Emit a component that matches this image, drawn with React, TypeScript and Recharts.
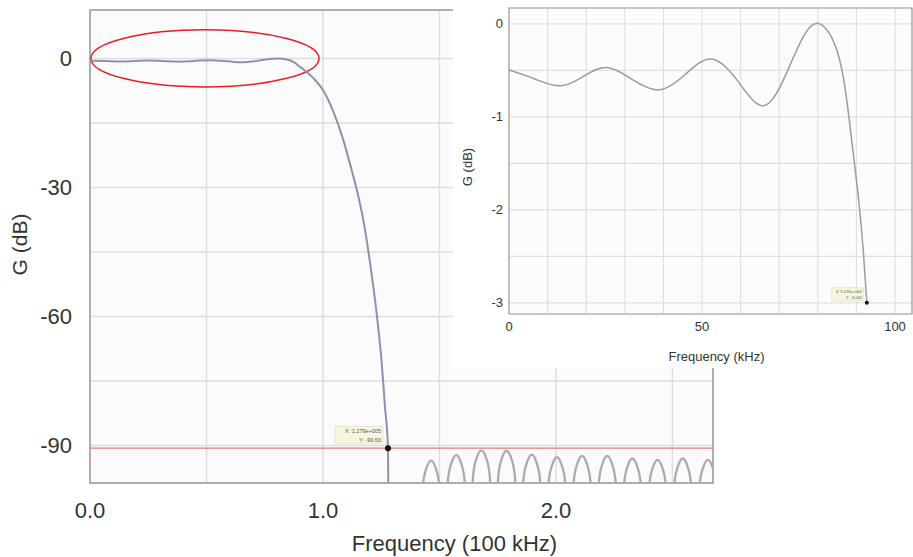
import React from 'react';
import {
  LineChart,
  Line,
  XAxis,
  YAxis,
  CartesianGrid,
  ReferenceLine,
  ReferenceDot,
  ReferenceArea,
} from 'recharts';

const FONT = '"Liberation Sans", Arial, Helvetica, sans-serif';

// ---- main plot: frequency in units of 100 kHz, gain in dB ----
const mainX = [
  0, 0.065, 0.134, 0.195, 0.255, 0.289, 0.332, 0.389, 0.427, 0.462, 0.522, 0.565, 0.617, 0.66,
  0.703, 0.737, 0.772, 0.805, 0.849, 0.875, 0.901, 0.927, 0.96, 1.0, 1.044, 1.087, 1.123, 1.152,
  1.173, 1.202, 1.23, 1.252, 1.266, 1.279, 1.283,
];
const mainG = [
  -0.5, -0.585, -0.667, -0.55, -0.47, -0.51, -0.64, -0.71, -0.62, -0.46, -0.38, -0.53, -0.78, -0.88,
  -0.64, -0.35, -0.08, 0, -0.28, -0.82, -1.9, -3.0, -4.6, -7.3, -12.3, -18.9, -25.9, -32.1,
  -37.5, -47.5, -59.1, -70.7, -80.9, -90.6, -115,
];

// stopband side lobes (nulls go below the visible range)
const lobeX = [
  1.410, 1.429, 1.445, 1.464, 1.483, 1.499,
  1.518, 1.537, 1.553, 1.572, 1.591, 1.607,
  1.626, 1.645, 1.661, 1.680, 1.699, 1.715,
  1.734, 1.753, 1.769, 1.788, 1.807, 1.823,
  1.842, 1.861, 1.877, 1.896, 1.915, 1.931,
  1.950, 1.969, 1.985, 2.004, 2.023, 2.039,
  2.058, 2.077, 2.093, 2.112, 2.131, 2.147,
  2.166, 2.185, 2.201, 2.220, 2.239, 2.255,
  2.274, 2.293, 2.309, 2.328, 2.347, 2.363,
  2.382, 2.401, 2.417, 2.436, 2.455, 2.471,
  2.490, 2.509, 2.525, 2.544, 2.563, 2.579,
  2.598, 2.617, 2.633, 2.652, 2.671, 2.687,
  2.706,
];
const lobeG = [
  -115, -99.0, -95.1, -93.5, -95.1, -99.0,
  -115, -97.7, -93.8, -92.2, -93.8, -97.7,
  -115, -96.6, -92.7, -91.1, -92.7, -96.6,
  -115, -96.7, -92.8, -91.2, -92.8, -96.7,
  -115, -97.6, -93.7, -92.1, -93.7, -97.6,
  -115, -98.2, -94.3, -92.7, -94.3, -98.2,
  -115, -97.9, -94.0, -92.4, -94.0, -97.9,
  -115, -97.9, -94.0, -92.4, -94.0, -97.9,
  -115, -98.5, -94.6, -93.0, -94.6, -98.5,
  -115, -98.8, -94.9, -93.3, -94.9, -98.8,
  -115, -98.5, -94.6, -93.0, -94.6, -98.5,
  -115, -98.8, -94.9, -93.3, -94.9, -98.8,
  -115,
];

const mainXTicks = [0, 0.5, 1, 1.5, 2, 2.5];
const mainXLabels = [0, 1, 2];
const mainYTicks = [0, -15, -30, -45, -60, -75, -90];
const mainYLabels = [0, -30, -60, -90];
const mainXRange = [0, 2.674];
const mainYRange = [-98.7, 11.3];
const cutoffLevel = -90.6;
const cutoffPoint = { x: 1.279, g: -90.6 };
const cutoffText = ['X: 1.279e+005', 'Y: -90.60'];
// region circled in red (the passband ripple)
const rippleBox = { x1: 0.004, x2: 0.983, y1: -6.6, y2: 6.7 };

// ---- inset: frequency in kHz, gain in dB ----
const insetX = [
  0, 6.5, 13.4, 19.5, 25.5, 32, 38.9, 45.5, 52.2, 59, 66,
  72, 76.5, 80.5, 84.9, 87.5, 89.2, 90.6, 91.8, 92.7,
];
const insetG = [
  -0.497, -0.59, -0.667, -0.56, -0.47, -0.6, -0.71, -0.55, -0.377, -0.6, -0.88,
  -0.52, -0.12, 0, -0.28, -0.82, -1.4, -1.9, -2.45, -3.0,
];
const insetXTicks = [0, 10, 20, 30, 40, 50, 60, 70, 80, 90, 100];
const insetXLabels = [0, 50, 100];
const insetYTicks = [0, -0.5, -1, -1.5, -2, -2.5, -3];
const insetYLabels = [0, -1, -2, -3];
const insetXRange = [0, 104.4];
const insetYRange = [-3.12, 0.17];
const insetPoint = { x: 92.7, g: -3.0 };
const insetText = ['X: 9.270e+004', 'Y: -3.000'];

const mainData = mainX.map((x, i) => ({ x, g: mainG[i] }));
const lobeData = lobeX.map((x, i) => ({ x, g: lobeG[i] }));
const insetData = insetX.map((x, i) => ({ x, g: insetG[i] }));

function markerShape(lines: string[], w: number, h: number, fs: number, r: number, dx: number, dy: number) {
  return (p: any) => {
    const { cx, cy } = p;
    const bx = cx - dx - w;
    const by = cy - dy - h;
    return (
      <g>
        <rect x={bx} y={by} width={w} height={h} fill="#f6f5de" stroke="#dcdcc8" strokeWidth={0.6} />
        {lines.map((t, i) => (
          <text
            key={i}
            x={bx + w - 2}
            y={by + (h / lines.length) * (i + 1) - 1.5}
            fontSize={fs}
            textAnchor="end"
            fill="#555"
            fontFamily={FONT}
          >
            {t}
          </text>
        ))}
        <circle cx={cx} cy={cy} r={r} fill="#111" />
      </g>
    );
  };
}

function MainChart() {
  return (
    <LineChart width={913} height={557} margin={{ top: 10, right: 200, bottom: 0, left: 10 }}>
      <CartesianGrid stroke="#dedede" strokeWidth={1.5} fill="#fbfbfb" />
      <XAxis
        type="number"
        dataKey="x"
        domain={mainXRange}
        ticks={mainXTicks}
        allowDataOverflow
        height={74}
        axisLine={false}
        tickLine={false}
        tickSize={0}
        tickMargin={19}
        tick={{ fontSize: 22, fill: '#333', fontFamily: FONT }}
        tickFormatter={(v: number) => (mainXLabels.includes(v) ? v.toFixed(1) : '')}
        label={{
          content: (props: any) => {
            const vb = props.viewBox || { x: 90, y: 483, width: 623, height: 74 };
            return (
              <text x={vb.x + vb.width / 2 + 53} y={vb.y + 68} textAnchor="middle" fontSize={22} fill="#333" fontFamily={FONT}>
                Frequency (100 kHz)
              </text>
            );
          },
        }}
      />
      <YAxis
        type="number"
        domain={mainYRange}
        ticks={mainYTicks}
        allowDataOverflow
        width={80}
        axisLine={false}
        tickLine={false}
        tickSize={0}
        tickMargin={18}
        tick={{ fontSize: 22, fill: '#333', fontFamily: FONT }}
        tickFormatter={(v: number) => (mainYLabels.includes(v) ? String(v) : '')}
        label={{
          content: (props: any) => {
            const vb = props.viewBox || { x: 10, y: 10, width: 80, height: 473 };
            const cx = vb.x + 9;
            const cy = vb.y + vb.height / 2 - 2;
            return (
              <text
                x={cx}
                y={cy}
                transform={`rotate(-90 ${cx} ${cy})`}
                textAnchor="middle"
                dominantBaseline="central"
                fontSize={21}
                fill="#333"
                fontFamily={FONT}
              >
                G (dB)
              </text>
            );
          },
        }}
      />
      <ReferenceArea
        x1={mainXRange[0]}
        x2={mainXRange[1]}
        y1={mainYRange[0]}
        y2={mainYRange[1]}
        fill="none"
        stroke="#9c9c9c"
        strokeWidth={1.5}
      />
      <ReferenceLine y={cutoffLevel} stroke="#e07c7c" strokeWidth={1.2} />
      <Line
        data={lobeData}
        dataKey="g"
        type="monotone"
        stroke="#acacb0"
        strokeWidth={2.3}
        dot={false}
        isAnimationActive={false}
      />
      <Line
        data={mainData}
        dataKey="g"
        type="monotone"
        stroke="#8e91ad"
        strokeWidth={2}
        dot={false}
        isAnimationActive={false}
      />
      <ReferenceArea
        x1={rippleBox.x1}
        x2={rippleBox.x2}
        y1={rippleBox.y1}
        y2={rippleBox.y2}
        shape={(p: any) => (
          <ellipse
            cx={p.x + p.width / 2}
            cy={p.y + p.height / 2}
            rx={p.width / 2}
            ry={p.height / 2}
            fill="none"
            stroke="#e61e24"
            strokeWidth={1.5}
          />
        )}
      />
      <ReferenceDot
        x={cutoffPoint.x}
        y={cutoffPoint.g}
        r={3}
        shape={markerShape(cutoffText, 48, 17, 5.5, 3, 5, 5)}
      />
    </LineChart>
  );
}

function InsetChart() {
  return (
    <LineChart width={460} height={368} margin={{ top: 8, right: 1, bottom: 0, left: 0 }}>
      <CartesianGrid stroke="#e0e0e0" strokeWidth={1.2} fill="#fcfcfc" />
      <XAxis
        type="number"
        dataKey="x"
        domain={insetXRange}
        ticks={insetXTicks}
        allowDataOverflow
        height={54}
        axisLine={false}
        tickLine={false}
        tickSize={0}
        tickMargin={8}
        tick={{ fontSize: 13, fill: '#333', fontFamily: FONT }}
        tickFormatter={(v: number) => (insetXLabels.includes(v) ? String(v) : '')}
        label={{
          content: (props: any) => {
            const vb = props.viewBox || { x: 56, y: 314, width: 403, height: 54 };
            return (
              <text x={vb.x + vb.width / 2 + 6} y={vb.y + 47} textAnchor="middle" fontSize={13} fill="#333" fontFamily={FONT}>
                Frequency (kHz)
              </text>
            );
          },
        }}
      />
      <YAxis
        type="number"
        domain={insetYRange}
        ticks={insetYTicks}
        allowDataOverflow
        width={56}
        axisLine={false}
        tickLine={false}
        tickSize={0}
        tickMargin={6}
        tick={{ fontSize: 13, fill: '#333', fontFamily: FONT }}
        tickFormatter={(v: number) => (insetYLabels.includes(v) ? String(v) : '')}
        label={{
          content: (props: any) => {
            const vb = props.viewBox || { x: 0, y: 8, width: 56, height: 306 };
            const cx = vb.x + 14;
            const cy = vb.y + vb.height / 2 + 6;
            return (
              <text
                x={cx}
                y={cy}
                transform={`rotate(-90 ${cx} ${cy})`}
                textAnchor="middle"
                dominantBaseline="central"
                fontSize={13}
                fill="#333"
                fontFamily={FONT}
              >
                G (dB)
              </text>
            );
          },
        }}
      />
      <ReferenceArea
        x1={insetXRange[0]}
        x2={insetXRange[1]}
        y1={insetYRange[0]}
        y2={insetYRange[1]}
        fill="none"
        stroke="#a0a0a0"
        strokeWidth={1.2}
      />
      <Line
        data={insetData}
        dataKey="g"
        type="natural"
        stroke="#9a9ba8"
        strokeWidth={1.5}
        dot={false}
        isAnimationActive={false}
      />
      <ReferenceDot
        x={insetPoint.x}
        y={insetPoint.g}
        r={2}
        shape={markerShape(insetText, 32, 13, 4, 2, 3, 2)}
      />
    </LineChart>
  );
}

export default function App() {
  return (
    <div style={{ position: 'absolute', left: 0, top: 0, width: 913, height: 557, background: '#fff', overflow: 'hidden' }}>
      <MainChart />
      <div style={{ position: 'absolute', left: 453, top: 0, width: 460, height: 368, background: '#fff' }}>
        <InsetChart />
      </div>
    </div>
  );
}
